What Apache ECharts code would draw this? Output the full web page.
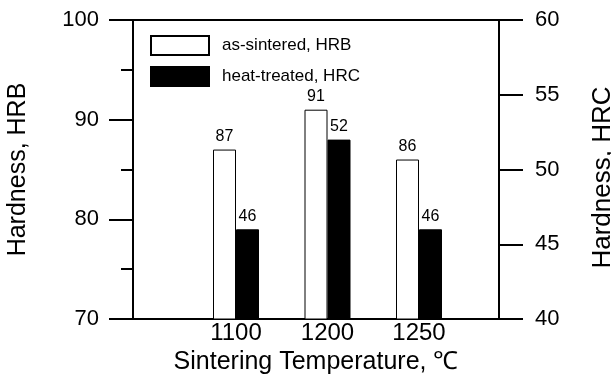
<!DOCTYPE html>
<html>
<head>
<meta charset="utf-8">
<script src="https://cdn.jsdelivr.net/npm/echarts@6/dist/echarts.min.js"></script>
<style>
  html, body { margin: 0; padding: 0; background: #fff; }
  #chart { width: 611px; height: 382px; }
</style>
</head>
<body>
<div id="chart"></div>
<script>
// Sintering temperatures (°C) and measured hardness
const temperatures = ['1100', '1200', '1250'];
const asSinteredHRB = [87, 91, 86];
const heatTreatedHRC = [46, 52, 46];

// Axis ranges
const hrbRange = [70, 100];
const hrbStep = 10;
const hrcRange = [40, 60];
const hrcStep = 5;

const seriesNames = ['as-sintered, HRB', 'heat-treated, HRC'];

// Empty slots on both ends frame the three temperatures inside the box
const categories = [''].concat(temperatures, ['']);
const padded = arr => [null].concat(arr, [null]);

const FONT = '"Liberation Sans", Arial, Helvetica, sans-serif';
const BAR_W = 23;

const chart = echarts.init(document.getElementById('chart'));

chart.setOption({
  backgroundColor: '#fff',
  animation: false,
  textStyle: { fontFamily: FONT, color: '#000' },
  grid: {
    left: 133, right: 112, top: 20, bottom: 63,
    outerBoundsMode: 'none',
    containLabel: false,
    show: true, borderColor: '#000', borderWidth: 2,
    backgroundColor: 'transparent'
  },
  legend: {
    data: seriesNames,
    orient: 'vertical',
    left: 145, top: 30,
    itemWidth: 58, itemHeight: 19, itemGap: 10,
    icon: 'rect',
    textStyle: { fontFamily: FONT, fontSize: 17, color: '#000', padding: [0, 0, 0, 8] }
  },
  xAxis: {
    type: 'category',
    data: categories,
    boundaryGap: false,
    axisLine: { show: true, lineStyle: { color: '#000', width: 2 } },
    axisTick: { show: false },
    axisLabel: {
      interval: 0, fontSize: 24, color: '#000', margin: 2,
      fontFamily: FONT, padding: [0, 0, 0, 23]
    },
    splitLine: { show: false },
    name: 'Sintering Temperature, \u2103',
    nameLocation: 'middle',
    nameGap: 25,
    nameTextStyle: { fontSize: 25, color: '#000', fontFamily: FONT }
  },
  yAxis: [
    {
      type: 'value',
      min: hrbRange[0], max: hrbRange[1], interval: hrbStep,
      position: 'left',
      axisLine: { show: true, lineStyle: { color: '#000', width: 2 } },
      axisTick: { show: true, length: 24, lineStyle: { color: '#000', width: 2 } },
      minorTick: { show: true, splitNumber: 2, length: 12, lineStyle: { color: '#000', width: 2 } },
      splitLine: { show: false },
      axisLabel: { fontSize: 22, color: '#000', margin: 34, fontFamily: FONT },
      name: 'Hardness, HRB',
      nameLocation: 'middle',
      nameRotate: 90,
      nameGap: 102,
      nameTextStyle: { fontSize: 25, color: '#000', fontFamily: FONT }
    },
    {
      type: 'value',
      min: hrcRange[0], max: hrcRange[1], interval: hrcStep,
      position: 'right',
      axisLine: { show: true, lineStyle: { color: '#000', width: 2 } },
      axisTick: { show: true, length: 24, lineStyle: { color: '#000', width: 2 } },
      splitLine: { show: false },
      axisLabel: { fontSize: 22, color: '#000', margin: 36, fontFamily: FONT },
      name: 'Hardness, HRC',
      nameLocation: 'middle',
      nameRotate: 90,
      nameGap: 91,
      // right-hand padding nudges the rotated title a little lower
      nameTextStyle: { fontSize: 26, color: '#000', fontFamily: FONT, padding: [0, 16, 0, 0] }
    }
  ],
  series: [
    {
      // leading spacer so each pair sits with its open bar on the tick
      type: 'bar',
      data: [],
      barWidth: BAR_W,
      barGap: 0,
      silent: true
    },
    {
      name: seriesNames[0],
      type: 'bar',
      yAxisIndex: 0,
      data: padded(asSinteredHRB),
      barWidth: BAR_W,
      barGap: 0,
      itemStyle: { color: '#fff', borderColor: '#000', borderWidth: 1 },
      label: { show: true, position: 'top', distance: 5, fontSize: 16, color: '#000', fontFamily: FONT }
    },
    {
      name: seriesNames[1],
      type: 'bar',
      yAxisIndex: 1,
      data: padded(heatTreatedHRC),
      barWidth: BAR_W,
      barGap: 0,
      itemStyle: { color: '#000', borderColor: '#000', borderWidth: 1 },
      label: { show: true, position: 'top', distance: 5, fontSize: 16, color: '#000', fontFamily: FONT }
    }
  ]
});
</script>
</body>
</html>
